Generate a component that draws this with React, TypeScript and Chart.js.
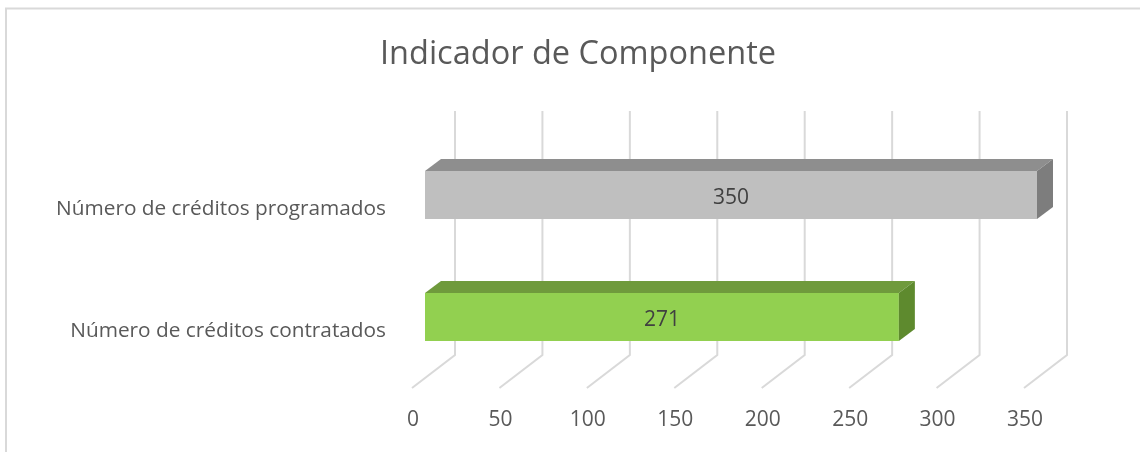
import React, { useEffect, useRef } from "react";
import { Chart, registerables } from "chart.js";

Chart.register(...registerables);

const titleText = "Indicador de Componente";
const categories = ["Número de créditos programados", "Número de créditos contratados"];
const values = [350, 271];
const frontColors = ["#bfbfbf", "#92d050"];
const topColors = ["#8e8e8e", "#6f9a3c"];
const sideColors = ["#7d7d7d", "#5e8a2e"];
const xMin = 0;
const xMax = 350;
const xStep = 50;

const FONT = "'Open Sans', 'DejaVu Sans', sans-serif";
const TEXT = "#595959";

const threeD = {
  id: "threeD",
  beforeDraw(chart: any) {
    const ctx = chart.ctx;
    ctx.save();
    ctx.fillStyle = "#ffffff";
    ctx.fillRect(0, 0, chart.width, chart.height);
    ctx.strokeStyle = "#d9d9d9";
    ctx.lineWidth = 2;
    ctx.beginPath();
    ctx.moveTo(6, chart.height + 5);
    ctx.lineTo(6, 8.5);
    ctx.lineTo(chart.width + 5, 8.5);
    ctx.stroke();
    ctx.restore();
  },
  beforeDatasetsDraw(chart: any) {
    const ctx = chart.ctx;
    const area = chart.chartArea;
    const xs = chart.scales.x;
    const backDx = 30, backDy = -23, frontDx = -13, frontDy = 10;
    ctx.save();
    ctx.strokeStyle = "#d9d9d9";
    ctx.lineWidth = 2;
    for (let v = xMin; v <= xMax; v += xStep) {
      const x = xs.getPixelForValue(v);
      ctx.beginPath();
      ctx.moveTo(x + backDx, area.top + backDy);
      ctx.lineTo(x + backDx, area.bottom + backDy);
      ctx.lineTo(x + frontDx, area.bottom + frontDy);
      ctx.stroke();
    }
    ctx.restore();
  },
  afterDatasetsDraw(chart: any) {
    const ctx = chart.ctx;
    const meta = chart.getDatasetMeta(0);
    const dx = 16, dy = -12;
    ctx.save();
    meta.data.forEach((bar: any, i: number) => {
      const { x, y, base, height } = bar.getProps(["x", "y", "base", "height"], true);
      const top = y - height / 2;
      const bottom = y + height / 2;
      const x0 = base;
      const x1 = x;
      ctx.fillStyle = topColors[i];
      ctx.beginPath();
      ctx.moveTo(x0, top);
      ctx.lineTo(x1, top);
      ctx.lineTo(x1 + dx, top + dy);
      ctx.lineTo(x0 + dx, top + dy);
      ctx.closePath();
      ctx.fill();
      ctx.fillStyle = sideColors[i];
      ctx.beginPath();
      ctx.moveTo(x1, top);
      ctx.lineTo(x1 + dx, top + dy);
      ctx.lineTo(x1 + dx, bottom + dy);
      ctx.lineTo(x1, bottom);
      ctx.closePath();
      ctx.fill();
      ctx.fillStyle = "#404040";
      ctx.font = `21px ${FONT}`;
      ctx.textAlign = "center";
      ctx.textBaseline = "middle";
      ctx.fillText(String(values[i]), (x0 + x1) / 2, y + 3);
    });
    ctx.restore();
  },
};

export default function App() {
  const ref = useRef<HTMLCanvasElement | null>(null);
  useEffect(() => {
    document.body.style.margin = "0";
    const canvas = ref.current!;
    const chart = new Chart(canvas, {
      type: "bar",
      data: {
        labels: categories,
        datasets: [
          {
            data: values,
            backgroundColor: frontColors,
            borderWidth: 0,
            barPercentage: 0.395,
            categoryPercentage: 1,
          },
        ],
      },
      options: {
        indexAxis: "y",
        responsive: false,
        animation: false,
        layout: { padding: { left: 16, right: 0, top: 0, bottom: 0 } },
        plugins: {
          legend: { display: false },
          tooltip: { enabled: false },
          title: {
            display: true,
            text: titleText,
            color: TEXT,
            font: { family: FONT, size: 32.5, weight: "normal" },
            padding: { top: 35, bottom: 60 },
          },
        },
        scales: {
          x: {
            min: xMin,
            max: xMax,
            grid: { display: false },
            border: { display: false },
            ticks: {
              stepSize: xStep,
              color: TEXT,
              font: { family: FONT, size: 21 },
              padding: 21,
              labelOffset: -12,
            },
            afterFit(scale: any) {
              scale.height = 74;
            },
          },
          y: {
            grid: { display: false },
            border: { display: false },
            ticks: {
              color: TEXT,
              font: { family: FONT, size: 20.8 },
              padding: 31,
              labelOffset: 14,
            },
            afterFit(scale: any) {
              scale.width = 409;
            },
          },
          spacer: {
            type: "linear",
            position: "right",
            grid: { display: false },
            border: { display: false },
            ticks: { display: false },
            afterFit(scale: any) {
              scale.width = 103;
            },
          },
        },
      },
      plugins: [threeD],
    });
    return () => chart.destroy();
  }, []);
  return <canvas ref={ref} width={1140} height={452} style={{ display: "block" }} />;
}
